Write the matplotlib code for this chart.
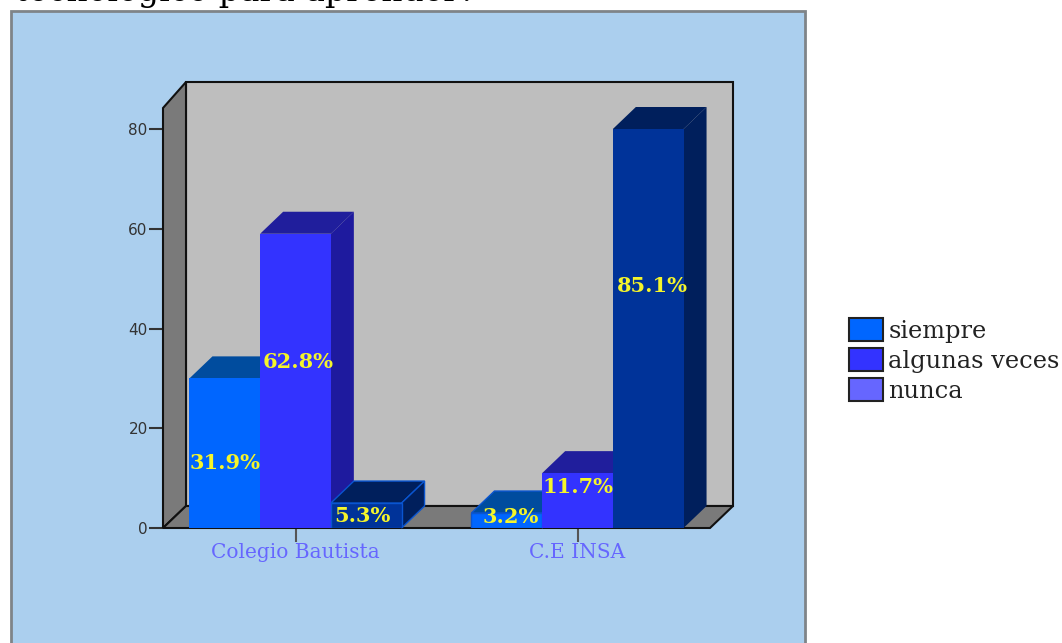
import matplotlib
matplotlib.use("Agg")
import matplotlib.pyplot as plt
from matplotlib.patches import Polygon, Rectangle, Patch

# datos
colegios = ["Colegio Bautista", "C.E INSA"]
respuestas = ["siempre", "algunas veces", "nunca"]
siempre = [30, 3]
algunas = [59, 11]
nunca = [5, 80]
etiq_siempre = ["31.9%", "3.2%"]
etiq_algunas = ["62.8%", "11.7%"]
etiq_nunca = ["5.3%", "85.1%"]
# altura de cada etiqueta dentro de la barra
alt_siempre = [13, 2.3]
alt_algunas = [33.2, 8.2]
alt_nunca = [2.4, 48.5]
# corrimiento horizontal de la etiqueta, en pixeles
corr_siempre = [0, 4]
corr_algunas = [3, 0]
corr_nunca = [-4, 4]

W, H = 1062, 643
fig = plt.figure(figsize=(W / 100, H / 100), dpi=100, facecolor="white")

def fx(px):
    return px / W

def fy(px):
    return 1 - px / H

# panel azul de fondo
fig.patches.append(Rectangle((fx(11), fy(650)), 794 / W, 639 / H, transform=fig.transFigure,
                             facecolor="#ABCFEE", edgecolor="#7F8488", linewidth=2, zorder=-1))
# el titulo queda cortado por el borde superior, igual que en el original
fig.text(fx(15), fy(1), "tecnológico para aprender?", family="DejaVu Serif",
         fontsize=23.8, color="black", ha="left", va="baseline")

# ejes en pixeles: 0 en y=528, 80 en y=129; grupos en x=296 y x=578
ax = fig.add_axes([fx(163), fy(528), 547 / W, 420 / H])
px_x = 282.0
px_y = 399 / 80
ax.set_xlim((163 - 295.5) / px_x, (710 - 295.5) / px_x)
ax.set_ylim(0, 420 / px_y)
ax.patch.set_alpha(0)
x0, x1 = ax.get_xlim()
ytop = ax.get_ylim()[1]

dx = 23 / px_x
dy = 22 / px_y
dy_top = 26 / px_y

def cara(puntos, color, borde="none", lw=0, z=1):
    ax.add_patch(Polygon(puntos, closed=True, facecolor=color, edgecolor=borde,
                         linewidth=lw, zorder=z, clip_on=False, joinstyle="miter"))

# paredes y piso
cara([(x0 + dx, dy), (x1 + dx, dy), (x1 + dx, ytop + dy_top), (x0 + dx, ytop + dy_top)],
     "#BEBEBE", "#111111", 1.5, 1)
cara([(x0, 0), (x0 + dx, dy), (x0 + dx, ytop + dy_top), (x0, ytop)], "#7A7A7A", "#111111", 1.5, 2)
cara([(x0, 0), (x1, 0), (x1 + dx, dy), (x0 + dx, dy)], "#7A7A7A", "#111111", 1.5, 2)

ancho = 70.7 / px_x
series = [
    (siempre, "#0066FF", "#004C9E", "#003F8C", etiq_siempre, alt_siempre, corr_siempre),
    (algunas, "#3333FF", "#201E9C", "#1E1A9E", etiq_algunas, alt_algunas, corr_algunas),
    (nunca, "#003399", "#001F5C", "#001F5C", etiq_nunca, alt_nunca, corr_nunca),
]
desplaz = [-ancho, 0, ancho]

for g in range(len(colegios)):
    for s, (vals, frente, arriba, lado, etiq, alts, corr) in enumerate(series):
        xc = g + desplaz[s]
        v = vals[g]
        izq, der = xc - ancho / 2, xc + ancho / 2
        borde = "#0A55D0"
        lw = 1.0 if v < 10 else 0
        cara([(izq, v), (der, v), (der + dx, v + dy), (izq + dx, v + dy)], arriba, borde, lw, 3 + s)
        cara([(der, 0), (der + dx, dy), (der + dx, v + dy), (der, v)], lado, borde, lw, 3 + s)
        ax.bar(xc, v, width=ancho, color=frente, edgecolor=borde, linewidth=lw, zorder=4 + s)
        ax.text(xc + corr[g] / px_x, alts[g], etiq[g], color="#F5F52A", family="DejaVu Serif",
                weight="bold", fontsize=15, ha="center", va="center", zorder=10, clip_on=False)

ax.spines["top"].set_visible(False)
ax.spines["right"].set_visible(False)
ax.spines["left"].set_visible(False)
ax.spines["bottom"].set_visible(False)
ax.set_yticks([0, 20, 40, 60, 80])
ax.tick_params(axis="y", length=10, width=1.5, color="#333333", labelcolor="#333333",
               labelsize=11, pad=1)
ax.set_xticks([0, 1])
ax.set_xticklabels(colegios, family="DejaVu Serif", fontsize=14.5, color="#6666FF")
ax.tick_params(axis="x", length=10, width=1.5, color="#555555", pad=1)

manijas = [Patch(facecolor=c, edgecolor="#222222", linewidth=1.5)
           for c in ["#0066FF", "#3333FF", "#6666FF"]]
fig.legend(manijas, respuestas, loc="upper left", bbox_to_anchor=(fx(849), fy(318)),
           frameon=False, borderpad=0, borderaxespad=0, handlelength=1.42, handleheight=1.08,
           handletextpad=0.2, labelspacing=0.22,
           prop={"family": "DejaVu Serif", "size": 17.4}, labelcolor="#222222")

fig.savefig("out.png", dpi=100, facecolor="white")
